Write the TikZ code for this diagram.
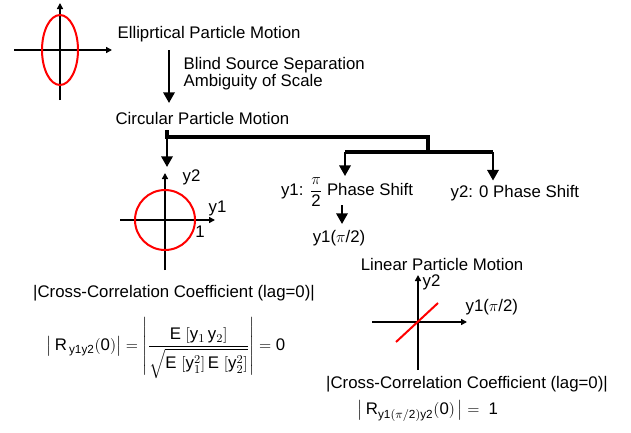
\documentclass[tikz,border=0pt]{standalone}
\usepackage{amsmath}
\usepackage{fontspec}
\setmainfont{Liberation Sans}
\usetikzlibrary{arrows.meta, calc}

\begin{document}
\begin{tikzpicture}[
	x=0.75pt, y=-0.75pt,
	font=\fontsize{12.6}{15}\selectfont,
	texto/.style={inner sep=1pt},
	flecha/.style={-{Triangle[length=8pt, width=8.5pt]}, line width=1.7pt},
	rama/.style={line width=2.6pt},
	eje/.style={-{Triangle[length=4.5pt, width=4.5pt]}, line width=1.4pt},
	curva/.style={draw=red, line width=1.5pt},
	]

\useasboundingbox (0,0) rectangle (631,432);

% Movimiento eliptico
\coordinate (o1) at (60,50);
\draw[eje] ($(o1)+(-46,0)$) -- ($(o1)+(52,0)$);
\draw[eje] ($(o1)+(0,50)$) -- ($(o1)+(0,-47)$);
\draw[curva] (o1) ellipse [x radius=18, y radius=35];
\node[texto, anchor=west] (elip) at (116,34) {Elliprtical Particle Motion};

% Separacion ciega de fuentes
\coordinate (s1) at (169,50);
\coordinate (s2) at (169,103);
\draw[flecha] (s1) -- (s2);
\node[texto, anchor=west] (bss) at (182,65) {Blind Source Separation};
\node[texto, anchor=west] (amb) at (182,82) {Ambiguity of Scale};
\node[texto, anchor=west] (circ) at (114,118) {Circular Particle Motion};

% Desfases
\node[texto] (fase1) at (347,192) {y1: $\dfrac{\pi}{\mathrm{2}}$ Phase Shift};
\node[texto, anchor=west] (fase2) at (449,193) {y2: 0 Phase Shift};
\node[texto] (y1pi) at (339,238) {y1($\pi$/2)};

% Ramas
\coordinate (r0) at (167,130);
\coordinate (r1) at (167,137);
\coordinate (r2) at (428,137);
\coordinate (r3) at (428,152);
\coordinate (r4) at (345,152);
\coordinate (r5) at (493,152);
\coordinate (p1) at (167,167);
\coordinate (f1) at (342,205);
\coordinate (f2) at (342,224);

\draw[rama] (r0) -- (r1) -- (r2) -- (r3);
\draw[rama] (r4) -- (r5);
\draw[flecha] (r1) -- (p1);
\draw[flecha] (r4) -- (fase1.north -| r4);
\draw[flecha] (r5) -- ($(fase2.north -| r5)+(0,-3)$);
\draw[flecha] (f1) -- (f2);

% Movimiento circular
\coordinate (o2) at (165,220);
\draw[eje] ($(o2)+(-45,0)$) -- ($(o2)+(50,0)$);
\draw[eje] ($(o2)+(0,50)$) -- ($(o2)+(0,-47)$);
\draw[curva] (o2) circle [radius=30];
\node[texto, anchor=west] (ejey2) at (181,177) {y2};
\node[texto, anchor=west] (ejey1) at (207,208) {y1};
\node[texto] (uno) at (200,232) {1};

\node[texto] (cc1) at (174,293) {|Cross-Correlation Coefficient (lag=0)|};
\node[texto] (eq1) at (166,348) {$\left|\,\mathrm{R}_{\,\mathrm{y1y2}}\mathrm{(0)}\right| = \left|\dfrac{\mathrm{E}\ [\mathrm{y}_1\,\mathrm{y}_2]}{\sqrt{\mathrm{E}\ [\mathrm{y}_1^2]\,\mathrm{E}\ [\mathrm{y}_2^2]}}\right| = \mathrm{0}$};

% Movimiento lineal
\node[texto] (lin) at (442,264) {Linear Particle Motion};
\coordinate (o3) at (418,322);
\draw[eje] ($(o3)+(-46,0)$) -- ($(o3)+(49,0)$);
\draw[eje] ($(o3)+(0,48)$) -- ($(o3)+(0,-47)$);
\draw[curva] ($(o3)+(-22,20)$) -- ($(o3)+(20,-19)$);
\node[texto, anchor=west] (liny2) at (421,282) {y2};
\node[texto, anchor=west] (liny1) at (464,307) {y1($\pi$/2)};

\node[texto] (cc2) at (467,384) {|Cross-Correlation Coefficient (lag=0)|};
\node[texto] (eq2) at (428,411) {$\big|\,\mathrm{R}_{\mathrm{y1(\pi/2)y2}}\mathrm{(0)}\,\big| = \ \mathrm{1}$};

\end{tikzpicture}
\end{document}
